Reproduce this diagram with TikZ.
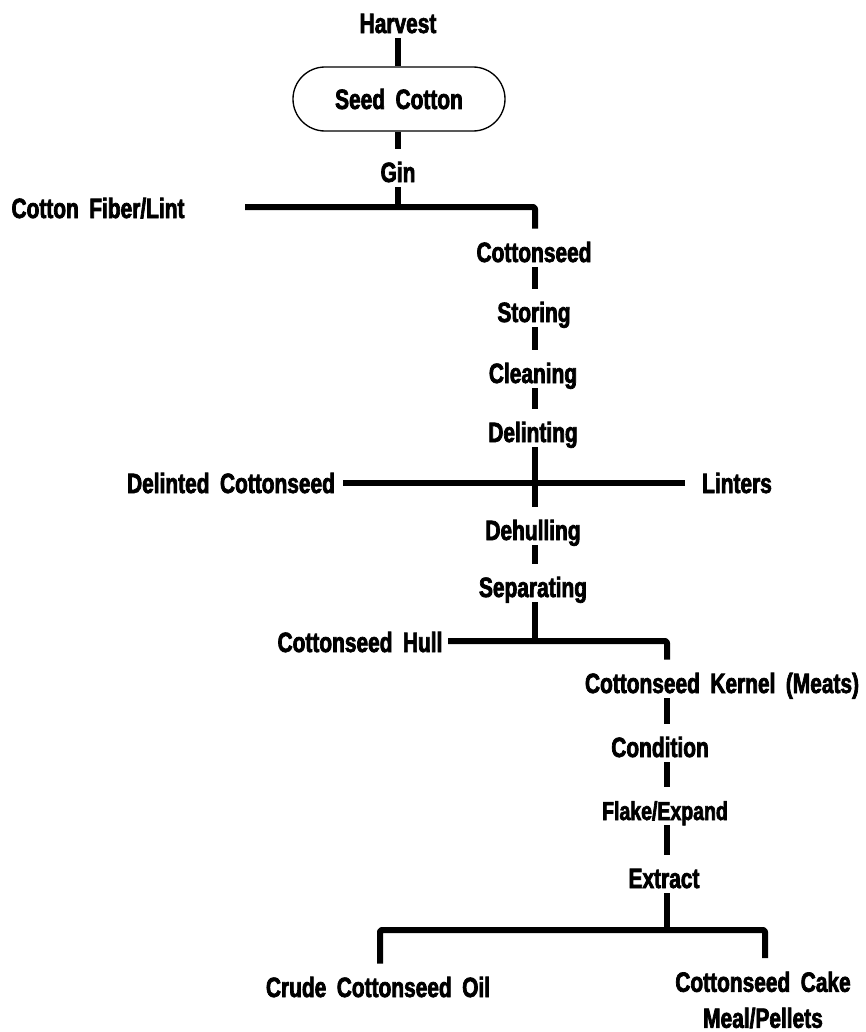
\documentclass[tikz,border=0pt]{standalone}
\usepackage{fontspec}
% condensed heavy sans for all labels
\newfontfamily\lblfont{Liberation Sans}[UprightFont=* Bold, FakeStretch=0.75, WordSpace=1.8, FakeBold=2.5]
\begin{document}
\begin{tikzpicture}[x=0.75pt, y=-0.75pt,
  lbl/.style={font=\lblfont\fontsize{20.9pt}{27pt}\selectfont, inner xsep=0pt,
    inner ysep=3.75pt, text height=21pt, text depth=0pt, anchor=base},
  lblm/.style={font=\lblfont\fontsize{20.9pt}{27pt}\selectfont, inner xsep=0pt},
  link/.style={line width=4.5pt, line cap=butt, line join=round, rounded corners=1.5pt},
  capsule/.style={draw, line width=1pt, minimum width=159pt, minimum height=48pt,
    rounded corners=24pt, inner sep=0pt,
    font=\lblfont\fontsize{20.9pt}{27pt}\selectfont}]
\useasboundingbox (0,0) rectangle (866,1032);

% --- top: harvest to gin ---
\node[lbl] (harvest) at (398,33) {Harvest};
\node[capsule] (seed) at (399,99) {Seed Cotton};
\node[lbl] (gin) at (398,182) {Gin};
\draw[link] (harvest.south) -- (harvest.south |- seed.north);
\draw[link] (gin.north |- seed.south) -- (gin.north);

\coordinate (j1)  at (398,207);
\coordinate (j1l) at (245,207);
\coordinate (j1r) at (535,207);
\node[lbl] (fiber) at (98,218) {Cotton Fiber/Lint};
\draw[link] (gin.south) -- (j1);

% --- cottonseed column ---
\node[lbl] (cseed)    at (534,262) {Cottonseed};
\node[lbl] (storing)  at (534,322) {Storing};
\node[lbl] (cleaning) at (533,383) {Cleaning};
\node[lbl] (delint)   at (533,442) {Delinting};
\node[lbl] (dehull)   at (533,540) {Dehulling};
\node[lbl] (separ)    at (533,597) {Separating};

\draw[link] (j1l) -- (j1r) -- (cseed.north -| j1r);
\draw[link] (cseed.south -| j1r) -- (storing.north -| j1r);
\draw[link] (storing.south -| j1r) -- (cleaning.north -| j1r);
\draw[link] (cleaning.south -| j1r) -- (delint.north -| j1r);
\draw[link] (delint.south -| j1r) -- (dehull.north -| j1r);

% delinting split
\coordinate (j2l) at (343,483);
\coordinate (j2r) at (685,483);
\node[lbl] (delinted) at (231,493) {Delinted Cottonseed};
\node[lbl] (linters)  at (737,493) {Linters};
\draw[link] (j2l) -- (j2r);

\draw[link] (dehull.south -| j1r) -- (separ.north -| j1r);

% separating split
\coordinate (j3)  at (535,641);
\coordinate (j3l) at (448,641);
\coordinate (j3r) at (667,641);
\node[lbl] (hull) at (360,652) {Cottonseed Hull};
\draw[link] (separ.south -| j3) -- (j3);

% --- kernel column ---
\node[lbl] (kernel)    at (722,693) {Cottonseed Kernel (Meats)};
\node[lbl] (condition) at (660,757) {Condition};
\node[lbl, font=\lblfont\fontsize{19.5pt}{25pt}\selectfont] (flake) at (665,820) {Flake/Expand};
\node[lbl] (extract)   at (664,888) {Extract};

\draw[link] (j3l) -- (j3r) -- (kernel.north -| j3r);
\draw[link] (kernel.south -| j3r) -- (condition.north -| j3r);
\draw[link] (condition.south -| j3r) -- (flake.north -| j3r);
\draw[link] (flake.south -| j3r) -- (extract.north -| j3r);

% extract split
\coordinate (j4)  at (667,930);
\coordinate (j4l) at (380,930);
\coordinate (j4r) at (765,930);
\node[lbl] (crude) at (378,997) {Crude Cottonseed Oil};
\node[lblm, align=center, anchor=north, inner ysep=10pt] (cake) at (763,958)
  {Cottonseed Cake\\Meal/Pellets};
\draw[link] (extract.south -| j4) -- (j4);
\draw[link] (crude.north -| j4l) -- (j4l) -- (j4r) -- (cake.north -| j4r);
\end{tikzpicture}
\end{document}
